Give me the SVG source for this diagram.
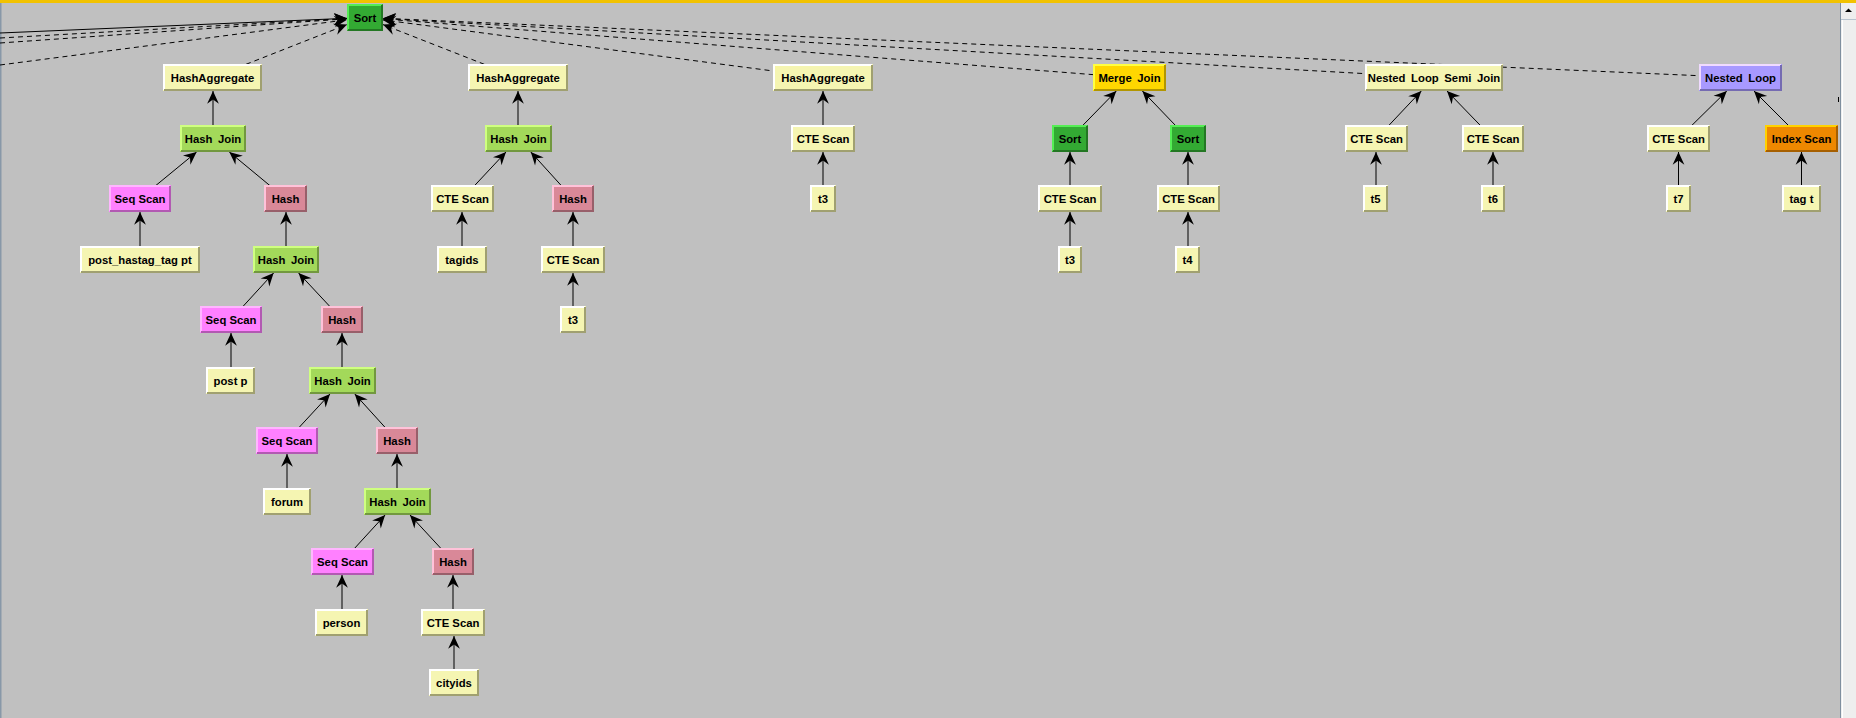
<svg xmlns="http://www.w3.org/2000/svg" width="1856" height="718" viewBox="0 0 1856 718">
<defs>
<style>
.bg{fill:#c0c0c0}
.e{stroke:#000;stroke-width:1;fill:none}
.d{stroke:#000;stroke-width:1;fill:none;stroke-dasharray:5 4}
.t{font-family:"Liberation Sans",Arial,sans-serif;font-weight:bold;font-size:11.3px;fill:#000;text-anchor:middle}
.w{word-spacing:2.5px}
.hl,.sh{fill:none;stroke-width:2}
.yel .f{fill:#f5f5b2}.yel .hl{stroke:#ffffff}.yel .sh{stroke:#a0a070}
.sg .f{fill:#33aa33}.sg .hl{stroke:#55ee55}.sg .sh{stroke:#237723}
.lime .f{fill:#a3d95a}.lime .hl{stroke:#cfff80}.lime .sh{stroke:#72983f}
.pink .f{fill:#ff80ff}.pink .hl{stroke:#ffb6ff}.pink .sh{stroke:#b259b2}
.hash .f{fill:#d98898}.hash .hl{stroke:#ffc2d9}.hash .sh{stroke:#985f6a}
.gold .f{fill:#ffd700}.gold .hl{stroke:#ffff40}.gold .sh{stroke:#b29600}
.purp .f{fill:#a899ff}.purp .hl{stroke:#f0daff}.purp .sh{stroke:#756bb2}
.orng .f{fill:#ee8800}.orng .hl{stroke:#ffd200}.orng .sh{stroke:#a65f00}
</style>
<marker id="ah" markerUnits="userSpaceOnUse" markerWidth="16" markerHeight="16" viewBox="-13 -7 15 14" refX="0" refY="0" orient="auto">
<path d="M0,0 L-12,-5.5 L-8,0 L-12,5.5 Z" fill="#000" stroke="none"/>
</marker>
</defs>
<rect class="bg" x="0" y="0" width="1856" height="718"/>
<rect x="0" y="0" width="1856" height="3" fill="#f2c200"/>
<rect x="0" y="3" width="1.5" height="715" fill="#8898a8"/>
<g id="scrollbar">
<rect x="1840" y="3" width="16" height="715" fill="#eeeeee"/>
<line x1="1840.5" y1="3" x2="1840.5" y2="718" stroke="#7f8f9f"/>
<line x1="1842.5" y1="20" x2="1842.5" y2="718" stroke="#ffffff"/>
<line x1="1841" y1="19.5" x2="1856" y2="19.5" stroke="#b8c4d0"/>
<path d="M1845,12 L1848.5,8.5 L1852,12 Z" fill="#000"/>
</g>
<g id="connectors">
<line class="e" x1="0" y1="33" x2="347" y2="18.3" marker-end="url(#ah)"/>
<line class="d" x1="0" y1="38" x2="347" y2="18.5" marker-end="url(#ah)"/>
<line class="d" x1="0" y1="43" x2="347" y2="18.8" marker-end="url(#ah)"/>
<line class="d" x1="0" y1="65" x2="347" y2="19.8" marker-end="url(#ah)"/>
<line class="d" x1="212.5" y1="77.5" x2="347" y2="24.6" marker-end="url(#ah)"/>
<line class="d" x1="518" y1="77.5" x2="383" y2="24.6" marker-end="url(#ah)"/>
<line class="d" x1="823" y1="77.5" x2="383" y2="19.9" marker-end="url(#ah)"/>
<line class="d" x1="1129.5" y1="77.5" x2="383" y2="18.9" marker-end="url(#ah)"/>
<line class="d" x1="1434" y1="77.5" x2="383" y2="18.5" marker-end="url(#ah)"/>
<line class="d" x1="1740.5" y1="77.5" x2="383" y2="18.3" marker-end="url(#ah)"/>
<line class="d" x1="1838.5" y1="97" x2="1838.5" y2="104"/>
<line class="e" x1="213" y1="138.5" x2="213" y2="91" marker-end="url(#ah)"/>
<line class="e" x1="140" y1="198.5" x2="196.6" y2="152" marker-end="url(#ah)"/>
<line class="e" x1="285.5" y1="198.5" x2="229.3" y2="152" marker-end="url(#ah)"/>
<line class="e" x1="140" y1="259.5" x2="140" y2="212" marker-end="url(#ah)"/>
<line class="e" x1="286" y1="259.5" x2="286" y2="212" marker-end="url(#ah)"/>
<line class="e" x1="231" y1="319.5" x2="273.6" y2="273" marker-end="url(#ah)"/>
<line class="e" x1="342" y1="319.5" x2="298.6" y2="273" marker-end="url(#ah)"/>
<line class="e" x1="231" y1="380.5" x2="231" y2="333" marker-end="url(#ah)"/>
<line class="e" x1="342" y1="380.5" x2="342" y2="333" marker-end="url(#ah)"/>
<line class="e" x1="287" y1="440.5" x2="330" y2="394" marker-end="url(#ah)"/>
<line class="e" x1="397" y1="440.5" x2="354.8" y2="394" marker-end="url(#ah)"/>
<line class="e" x1="287" y1="501.5" x2="287" y2="454" marker-end="url(#ah)"/>
<line class="e" x1="397" y1="501.5" x2="397" y2="454" marker-end="url(#ah)"/>
<line class="e" x1="342.5" y1="561.5" x2="385.1" y2="515" marker-end="url(#ah)"/>
<line class="e" x1="453" y1="561.5" x2="410" y2="515" marker-end="url(#ah)"/>
<line class="e" x1="342" y1="622.5" x2="342" y2="575" marker-end="url(#ah)"/>
<line class="e" x1="453" y1="622.5" x2="453" y2="575" marker-end="url(#ah)"/>
<line class="e" x1="454" y1="682.5" x2="454" y2="636" marker-end="url(#ah)"/>
<line class="e" x1="518" y1="138.5" x2="518" y2="91" marker-end="url(#ah)"/>
<line class="e" x1="462.5" y1="198.5" x2="506" y2="152" marker-end="url(#ah)"/>
<line class="e" x1="573" y1="198.5" x2="530.8" y2="152" marker-end="url(#ah)"/>
<line class="e" x1="462" y1="259.5" x2="462" y2="212" marker-end="url(#ah)"/>
<line class="e" x1="573" y1="259.5" x2="573" y2="212" marker-end="url(#ah)"/>
<line class="e" x1="573" y1="319.5" x2="573" y2="273" marker-end="url(#ah)"/>
<line class="e" x1="823" y1="138.5" x2="823" y2="91" marker-end="url(#ah)"/>
<line class="e" x1="823" y1="198.5" x2="823" y2="152" marker-end="url(#ah)"/>
<line class="e" x1="1070" y1="138.5" x2="1116.3" y2="91" marker-end="url(#ah)"/>
<line class="e" x1="1188" y1="138.5" x2="1142.4" y2="91" marker-end="url(#ah)"/>
<line class="e" x1="1070" y1="198.5" x2="1070" y2="152" marker-end="url(#ah)"/>
<line class="e" x1="1188" y1="198.5" x2="1188" y2="152" marker-end="url(#ah)"/>
<line class="e" x1="1070" y1="259.5" x2="1070" y2="212" marker-end="url(#ah)"/>
<line class="e" x1="1188" y1="259.5" x2="1188" y2="212" marker-end="url(#ah)"/>
<line class="e" x1="1376.5" y1="138.5" x2="1421.3" y2="91" marker-end="url(#ah)"/>
<line class="e" x1="1493" y1="138.5" x2="1447" y2="91" marker-end="url(#ah)"/>
<line class="e" x1="1376" y1="198.5" x2="1376" y2="152" stroke-width="2" marker-end="url(#ah)"/>
<line class="e" x1="1493" y1="198.5" x2="1493" y2="152" marker-end="url(#ah)"/>
<line class="e" x1="1678.5" y1="138.5" x2="1726.8" y2="91" marker-end="url(#ah)"/>
<line class="e" x1="1801.5" y1="138.5" x2="1754" y2="91" marker-end="url(#ah)"/>
<line class="e" x1="1678.5" y1="198.5" x2="1678.5" y2="152" marker-end="url(#ah)"/>
<line class="e" x1="1801.5" y1="198.5" x2="1801.5" y2="152" marker-end="url(#ah)"/>
</g>
<g id="sort0" class="sg"><rect class="f" x="347" y="4" width="36" height="27"/><path class="hl" d="M348,30 V5 H382"/><path class="sh" d="M348,30 H382 V5"/><text class="t" x="365" y="22">Sort</text></g>
<g id="ha1" class="yel"><rect class="f" x="163" y="64" width="99" height="27"/><path class="hl" d="M164,90 V65 H261"/><path class="sh" d="M164,90 H261 V65"/><text class="t" x="212.5" y="82">HashAggregate</text></g>
<g id="ha2" class="yel"><rect class="f" x="468" y="64" width="100" height="27"/><path class="hl" d="M469,90 V65 H567"/><path class="sh" d="M469,90 H567 V65"/><text class="t" x="518" y="82">HashAggregate</text></g>
<g id="ha3" class="yel"><rect class="f" x="773" y="64" width="100" height="27"/><path class="hl" d="M774,90 V65 H872"/><path class="sh" d="M774,90 H872 V65"/><text class="t" x="823" y="82">HashAggregate</text></g>
<g id="mj" class="gold"><rect class="f" x="1093" y="64" width="73" height="27"/><path class="hl" d="M1094,90 V65 H1165"/><path class="sh" d="M1094,90 H1165 V65"/><text class="t w" x="1129.5" y="82">Merge Join</text></g>
<g id="nlsj" class="yel"><rect class="f" x="1365" y="64" width="138" height="27"/><path class="hl" d="M1366,90 V65 H1502"/><path class="sh" d="M1366,90 H1502 V65"/><text class="t w" x="1434" y="82">Nested Loop Semi Join</text></g>
<g id="nl" class="purp"><rect class="f" x="1699" y="64" width="83" height="27"/><path class="hl" d="M1700,90 V65 H1781"/><path class="sh" d="M1700,90 H1781 V65"/><text class="t w" x="1740.5" y="82">Nested Loop</text></g>
<g id="hj1" class="lime"><rect class="f" x="180" y="125" width="66" height="27"/><path class="hl" d="M181,151 V126 H245"/><path class="sh" d="M181,151 H245 V126"/><text class="t w" x="213" y="143">Hash Join</text></g>
<g id="hj2" class="lime"><rect class="f" x="485" y="125" width="67" height="27"/><path class="hl" d="M486,151 V126 H551"/><path class="sh" d="M486,151 H551 V126"/><text class="t w" x="518.5" y="143">Hash Join</text></g>
<g id="cte3" class="yel"><rect class="f" x="791" y="125" width="64" height="27"/><path class="hl" d="M792,151 V126 H854"/><path class="sh" d="M792,151 H854 V126"/><text class="t" x="823" y="143">CTE Scan</text></g>
<g id="sortL" class="sg"><rect class="f" x="1052" y="125" width="36" height="27"/><path class="hl" d="M1053,151 V126 H1087"/><path class="sh" d="M1053,151 H1087 V126"/><text class="t" x="1070" y="143">Sort</text></g>
<g id="sortR" class="sg"><rect class="f" x="1170" y="125" width="36" height="27"/><path class="hl" d="M1171,151 V126 H1205"/><path class="sh" d="M1171,151 H1205 V126"/><text class="t" x="1188" y="143">Sort</text></g>
<g id="cte5" class="yel"><rect class="f" x="1345" y="125" width="63" height="27"/><path class="hl" d="M1346,151 V126 H1407"/><path class="sh" d="M1346,151 H1407 V126"/><text class="t" x="1376.5" y="143">CTE Scan</text></g>
<g id="cte6" class="yel"><rect class="f" x="1462" y="125" width="62" height="27"/><path class="hl" d="M1463,151 V126 H1523"/><path class="sh" d="M1463,151 H1523 V126"/><text class="t" x="1493" y="143">CTE Scan</text></g>
<g id="cte7" class="yel"><rect class="f" x="1647" y="125" width="63" height="27"/><path class="hl" d="M1648,151 V126 H1709"/><path class="sh" d="M1648,151 H1709 V126"/><text class="t" x="1678.5" y="143">CTE Scan</text></g>
<g id="idx" class="orng"><rect class="f" x="1765" y="125" width="73" height="27"/><path class="hl" d="M1766,151 V126 H1837"/><path class="sh" d="M1766,151 H1837 V126"/><text class="t" x="1801.5" y="143">Index Scan</text></g>
<g id="seq1" class="pink"><rect class="f" x="109" y="185" width="62" height="27"/><path class="hl" d="M110,211 V186 H170"/><path class="sh" d="M110,211 H170 V186"/><text class="t" x="140" y="203">Seq Scan</text></g>
<g id="hash1" class="hash"><rect class="f" x="264" y="185" width="43" height="27"/><path class="hl" d="M265,211 V186 H306"/><path class="sh" d="M265,211 H306 V186"/><text class="t" x="285.5" y="203">Hash</text></g>
<g id="cte2" class="yel"><rect class="f" x="431" y="185" width="63" height="27"/><path class="hl" d="M432,211 V186 H493"/><path class="sh" d="M432,211 H493 V186"/><text class="t" x="462.5" y="203">CTE Scan</text></g>
<g id="hash5" class="hash"><rect class="f" x="552" y="185" width="42" height="27"/><path class="hl" d="M553,211 V186 H593"/><path class="sh" d="M553,211 H593 V186"/><text class="t" x="573" y="203">Hash</text></g>
<g id="t3b" class="yel"><rect class="f" x="810" y="185" width="26" height="27"/><path class="hl" d="M811,211 V186 H835"/><path class="sh" d="M811,211 H835 V186"/><text class="t" x="823" y="203">t3</text></g>
<g id="cte9" class="yel"><rect class="f" x="1038" y="185" width="64" height="27"/><path class="hl" d="M1039,211 V186 H1101"/><path class="sh" d="M1039,211 H1101 V186"/><text class="t" x="1070" y="203">CTE Scan</text></g>
<g id="cte10" class="yel"><rect class="f" x="1157" y="185" width="63" height="27"/><path class="hl" d="M1158,211 V186 H1219"/><path class="sh" d="M1158,211 H1219 V186"/><text class="t" x="1188.5" y="203">CTE Scan</text></g>
<g id="t5" class="yel"><rect class="f" x="1363" y="185" width="25" height="27"/><path class="hl" d="M1364,211 V186 H1387"/><path class="sh" d="M1364,211 H1387 V186"/><text class="t" x="1375.5" y="203">t5</text></g>
<g id="t6" class="yel"><rect class="f" x="1481" y="185" width="24" height="27"/><path class="hl" d="M1482,211 V186 H1504"/><path class="sh" d="M1482,211 H1504 V186"/><text class="t" x="1493" y="203">t6</text></g>
<g id="t7" class="yel"><rect class="f" x="1666" y="185" width="25" height="27"/><path class="hl" d="M1667,211 V186 H1690"/><path class="sh" d="M1667,211 H1690 V186"/><text class="t" x="1678.5" y="203">t7</text></g>
<g id="tagt" class="yel"><rect class="f" x="1782" y="185" width="39" height="27"/><path class="hl" d="M1783,211 V186 H1820"/><path class="sh" d="M1783,211 H1820 V186"/><text class="t" x="1801.5" y="203">tag t</text></g>
<g id="pht" class="yel"><rect class="f" x="80" y="246" width="120" height="27"/><path class="hl" d="M81,272 V247 H199"/><path class="sh" d="M81,272 H199 V247"/><text class="t" x="140" y="264">post_hastag_tag pt</text></g>
<g id="hj3" class="lime"><rect class="f" x="253" y="246" width="66" height="27"/><path class="hl" d="M254,272 V247 H318"/><path class="sh" d="M254,272 H318 V247"/><text class="t w" x="286" y="264">Hash Join</text></g>
<g id="tagids" class="yel"><rect class="f" x="437" y="246" width="50" height="27"/><path class="hl" d="M438,272 V247 H486"/><path class="sh" d="M438,272 H486 V247"/><text class="t" x="462" y="264">tagids</text></g>
<g id="cte8" class="yel"><rect class="f" x="541" y="246" width="64" height="27"/><path class="hl" d="M542,272 V247 H604"/><path class="sh" d="M542,272 H604 V247"/><text class="t" x="573" y="264">CTE Scan</text></g>
<g id="t3c" class="yel"><rect class="f" x="1058" y="246" width="24" height="27"/><path class="hl" d="M1059,272 V247 H1081"/><path class="sh" d="M1059,272 H1081 V247"/><text class="t" x="1070" y="264">t3</text></g>
<g id="t4" class="yel"><rect class="f" x="1175" y="246" width="25" height="27"/><path class="hl" d="M1176,272 V247 H1199"/><path class="sh" d="M1176,272 H1199 V247"/><text class="t" x="1187.5" y="264">t4</text></g>
<g id="seq2" class="pink"><rect class="f" x="200" y="306" width="62" height="27"/><path class="hl" d="M201,332 V307 H261"/><path class="sh" d="M201,332 H261 V307"/><text class="t" x="231" y="324">Seq Scan</text></g>
<g id="hash2" class="hash"><rect class="f" x="321" y="306" width="42" height="27"/><path class="hl" d="M322,332 V307 H362"/><path class="sh" d="M322,332 H362 V307"/><text class="t" x="342" y="324">Hash</text></g>
<g id="t3a" class="yel"><rect class="f" x="560" y="306" width="26" height="27"/><path class="hl" d="M561,332 V307 H585"/><path class="sh" d="M561,332 H585 V307"/><text class="t" x="573" y="324">t3</text></g>
<g id="postp" class="yel"><rect class="f" x="206" y="367" width="49" height="27"/><path class="hl" d="M207,393 V368 H254"/><path class="sh" d="M207,393 H254 V368"/><text class="t" x="230.5" y="385">post p</text></g>
<g id="hj4" class="lime"><rect class="f" x="309" y="367" width="67" height="27"/><path class="hl" d="M310,393 V368 H375"/><path class="sh" d="M310,393 H375 V368"/><text class="t w" x="342.5" y="385">Hash Join</text></g>
<g id="seq3" class="pink"><rect class="f" x="256" y="427" width="62" height="27"/><path class="hl" d="M257,453 V428 H317"/><path class="sh" d="M257,453 H317 V428"/><text class="t" x="287" y="445">Seq Scan</text></g>
<g id="hash3" class="hash"><rect class="f" x="376" y="427" width="42" height="27"/><path class="hl" d="M377,453 V428 H417"/><path class="sh" d="M377,453 H417 V428"/><text class="t" x="397" y="445">Hash</text></g>
<g id="forum" class="yel"><rect class="f" x="263" y="488" width="48" height="27"/><path class="hl" d="M264,514 V489 H310"/><path class="sh" d="M264,514 H310 V489"/><text class="t" x="287" y="506">forum</text></g>
<g id="hj5" class="lime"><rect class="f" x="364" y="488" width="67" height="27"/><path class="hl" d="M365,514 V489 H430"/><path class="sh" d="M365,514 H430 V489"/><text class="t w" x="397.5" y="506">Hash Join</text></g>
<g id="seq4" class="pink"><rect class="f" x="311" y="548" width="63" height="27"/><path class="hl" d="M312,574 V549 H373"/><path class="sh" d="M312,574 H373 V549"/><text class="t" x="342.5" y="566">Seq Scan</text></g>
<g id="hash4" class="hash"><rect class="f" x="432" y="548" width="42" height="27"/><path class="hl" d="M433,574 V549 H473"/><path class="sh" d="M433,574 H473 V549"/><text class="t" x="453" y="566">Hash</text></g>
<g id="person" class="yel"><rect class="f" x="315" y="609" width="53" height="27"/><path class="hl" d="M316,635 V610 H367"/><path class="sh" d="M316,635 H367 V610"/><text class="t" x="341.5" y="627">person</text></g>
<g id="cte4" class="yel"><rect class="f" x="421" y="609" width="64" height="27"/><path class="hl" d="M422,635 V610 H484"/><path class="sh" d="M422,635 H484 V610"/><text class="t" x="453" y="627">CTE Scan</text></g>
<g id="cityids" class="yel"><rect class="f" x="429" y="669" width="50" height="27"/><path class="hl" d="M430,695 V670 H478"/><path class="sh" d="M430,695 H478 V670"/><text class="t" x="454" y="687">cityids</text></g>
</svg>
